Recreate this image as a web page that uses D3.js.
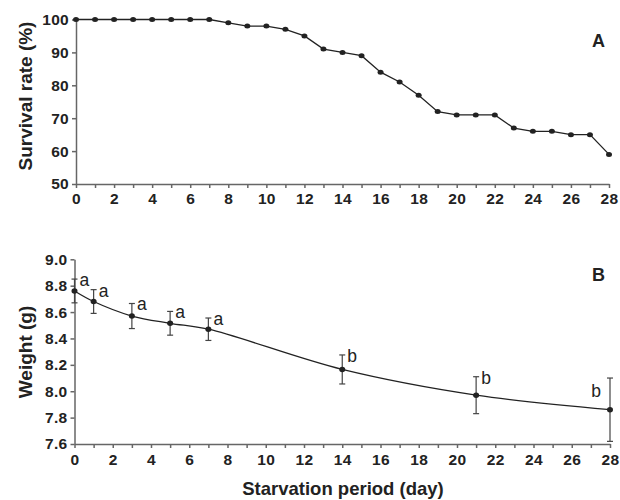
<!DOCTYPE html>
<html><head><meta charset="utf-8">
<script src="https://cdn.jsdelivr.net/npm/d3@7"></script>
<style>
body{margin:0;background:#fff;}
svg{display:block;font-family:"Liberation Sans",Arial,sans-serif;}
.axis path,.axis line{stroke:#666;stroke-width:1.5;}
.axis text{font-size:15.5px;font-weight:bold;fill:#222;font-family:"Liberation Sans",Arial,sans-serif;letter-spacing:0.3px;}
</style></head>
<body>
<script>
// Panel A: survival
const survivalDays = [0,1,2,3,4,5,6,7,8,9,10,11,12,13,14,15,16,17,18,19,20,21,22,23,24,25,26,27,28];
const survivalRate = [100,100,100,100,100,100,100,100,99,98,98,97,95,91,90,89,84,81,77,72,71,71,71,67,66,66,65,65,59];
const survivalTicks = [50,60,70,80,90,100];
// Panel B: weight
const weightDays = [0,1,3,5,7,14,21,28];
const weightMean = [8.76,8.68,8.57,8.515,8.47,8.165,7.97,7.86];
const weightErr = [0.09,0.09,0.095,0.09,0.085,0.11,0.14,0.24];
const weightLetters = ['a','a','a','a','a','b','b','b'];
const weightTicks = [7.6,7.8,8.0,8.2,8.4,8.6,8.8,9.0];
const xTickValues = d3.range(0,29);

const W=620,H=500;
const svg=d3.select("body").append("svg").attr("width",W).attr("height",H);
const ink="#222";

// ---------- Panel A ----------
const xA=d3.scaleLinear().domain([0,28]).range([76,609]);
const yA=d3.scaleLinear().domain([50,100]).range([184,19.5]);

svg.append("g").attr("class","axis").attr("transform","translate(0,184)")
  .call(d3.axisBottom(xA).tickValues(xTickValues).tickSize(4).tickSizeOuter(0).tickPadding(5)
    .tickFormat(d=>d%2===0?d:""));
svg.append("g").attr("class","axis").attr("transform","translate(76,0)")
  .call(d3.axisLeft(yA).tickValues(survivalTicks).tickSize(4).tickSizeOuter(0).tickPadding(3));

svg.append("path").datum(survivalDays.map((d,i)=>[d,survivalRate[i]]))
  .attr("fill","none").attr("stroke",ink).attr("stroke-width",1.3)
  .attr("d",d3.line().x(d=>xA(d[0])).y(d=>yA(d[1])));
svg.selectAll(".ptA").data(survivalDays).enter().append("ellipse")
  .attr("cx",d=>xA(d)).attr("cy",(d,i)=>yA(survivalRate[i])).attr("rx",3).attr("ry",2.5).attr("fill",ink);

svg.append("text").attr("x",592).attr("y",47).attr("font-size",18).attr("font-weight","bold").attr("fill",ink).text("A");
svg.append("text").attr("transform","translate(32,96) rotate(-90)").attr("text-anchor","middle")
  .attr("font-size",19).attr("font-weight","bold").attr("fill",ink).text("Survival rate (%)");

// ---------- Panel B ----------
const xB=d3.scaleLinear().domain([0,28]).range([74.5,610]);
const yB=d3.scaleLinear().domain([7.6,9.0]).range([444,259.3]);

svg.append("g").attr("class","axis").attr("transform","translate(0,444)")
  .call(d3.axisBottom(xB).tickValues(xTickValues).tickSize(4).tickSizeOuter(0).tickPadding(6)
    .tickFormat(d=>d%2===0?d:""));
svg.append("g").attr("class","axis").attr("transform","translate(74.5,0)")
  .call(d3.axisLeft(yB).tickValues(weightTicks).tickSize(4).tickSizeOuter(0).tickPadding(3).tickFormat(d3.format(".1f")));

svg.append("path").datum(weightDays.map((d,i)=>[d,weightMean[i]]))
  .attr("fill","none").attr("stroke",ink).attr("stroke-width",1.3)
  .attr("d",d3.line().curve(d3.curveCatmullRom.alpha(0.5)).x(d=>xB(d[0])).y(d=>yB(d[1])));

const eb=svg.append("g").attr("stroke","#444").attr("stroke-width",1.2);
weightDays.forEach((d,i)=>{
  const x=xB(d), y1=yB(weightMean[i]+weightErr[i]), y2=yB(weightMean[i]-weightErr[i]);
  eb.append("line").attr("x1",x).attr("x2",x).attr("y1",y1).attr("y2",y2);
  eb.append("line").attr("x1",x-3).attr("x2",x+3).attr("y1",y1).attr("y2",y1);
  eb.append("line").attr("x1",x-3).attr("x2",x+3).attr("y1",y2).attr("y2",y2);
});
svg.selectAll(".ptB").data(weightDays).enter().append("ellipse")
  .attr("cx",d=>xB(d)).attr("cy",(d,i)=>yB(weightMean[i])).attr("rx",3).attr("ry",2.7).attr("fill",ink);

weightDays.forEach((d,i)=>{
  const last=i===weightDays.length-1;
  const top=yB(weightMean[i]+weightErr[i]);
  svg.append("text").attr("x",last?xB(d)-9:xB(d)+5).attr("y",last?top+19:top+7)
    .attr("text-anchor",last?"end":"start").attr("font-size",17.5).attr("fill",ink).text(weightLetters[i]);
});

svg.append("text").attr("x",592).attr("y",281).attr("font-size",18).attr("font-weight","bold").attr("fill",ink).text("B");
svg.append("text").attr("transform","translate(32,352) rotate(-90)").attr("text-anchor","middle")
  .attr("font-size",19).attr("font-weight","bold").attr("fill",ink).text("Weight (g)");
svg.append("text").attr("x",343).attr("y",495).attr("text-anchor","middle")
  .attr("font-size",18.5).attr("font-weight","bold").attr("fill",ink).text("Starvation period (day)");
</script>
</body></html>
